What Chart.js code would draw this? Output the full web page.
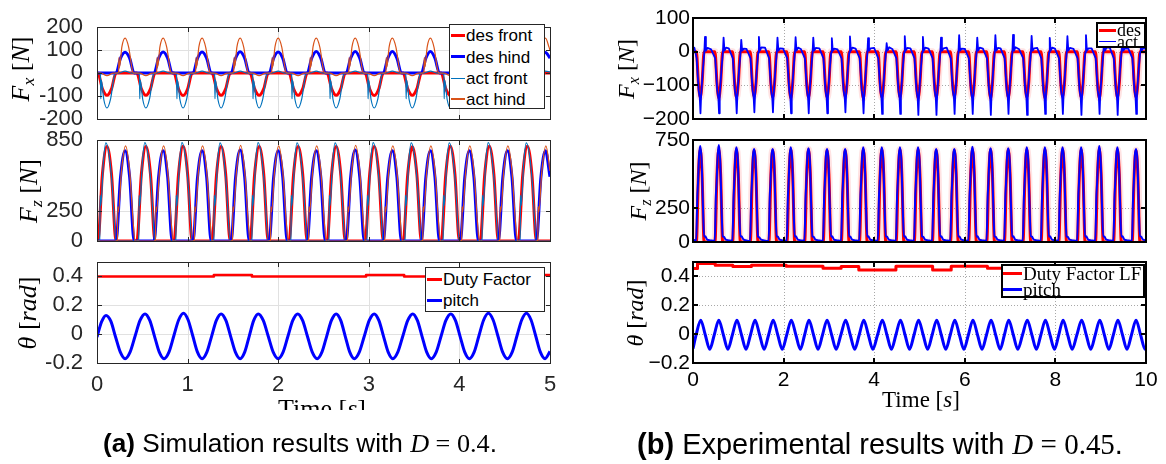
<!DOCTYPE html>
<html>
<head>
<meta charset="utf-8">
<title>Simulation and experimental gait results</title>
<script src="https://cdn.jsdelivr.net/npm/chart.js@4.4.1/dist/chart.umd.min.js"></script>
<style>
html,body{margin:0;padding:0;background:#fff;}
#page{position:relative;width:1166px;height:464px;overflow:hidden;background:#fff;}
#page canvas{position:absolute;top:0;}
.ylab{position:absolute;white-space:nowrap;transform:translate(-50%,-50%) rotate(-90deg);font-family:"Liberation Serif","DejaVu Serif",serif;color:#000;line-height:1;}
.ylab i{font-style:italic;}
.ylab sub{font-size:0.68em;vertical-align:-0.3em;line-height:0;font-style:italic;}
.leg{position:absolute;background:#fff;box-sizing:border-box;}
.cap{position:absolute;white-space:nowrap;font-family:"Liberation Sans",Arial,sans-serif;color:#000;line-height:1;transform:translate(-50%,-50%);}
.cap .m{font-family:"Liberation Serif",serif;}
.xlab{position:absolute;white-space:nowrap;font-family:"Liberation Serif",serif;line-height:1;color:#000;}
</style>
</head>
<body>
<div id="page">
<canvas id="l1" width="580" height="464" style="left:0"></canvas>
<canvas id="l2" width="580" height="464" style="left:0"></canvas>
<canvas id="l3" width="580" height="464" style="left:0"></canvas>
<canvas id="r1" width="586" height="464" style="left:580px"></canvas>
<canvas id="r2" width="586" height="464" style="left:580px"></canvas>
<canvas id="r3" width="586" height="464" style="left:580px"></canvas>

<div class="ylab" style="left:21px;top:69px;font-size:26px"><i>F</i><sub>x</sub>&nbsp;[<i>N</i>]</div>
<div class="ylab" style="left:29px;top:191px;font-size:26px"><i>F</i><sub>z</sub>&nbsp;[<i>N</i>]</div>
<div class="ylab" style="left:28px;top:313px;font-size:26px"><i>θ</i>&nbsp;[<i>rad</i>]</div>
<div class="ylab" style="left:626px;top:69px;font-size:24px"><i>F</i><sub>x</sub>&nbsp;[<i>N</i>]</div>
<div class="ylab" style="left:638px;top:191px;font-size:24px"><i>F</i><sub>z</sub>&nbsp;[<i>N</i>]</div>
<div class="ylab" style="left:635px;top:313px;font-size:24px"><i>θ</i>&nbsp;[<i>rad</i>]</div>

<div style="position:absolute;left:278px;top:396px;width:110px;height:14px;overflow:hidden"><div class="xlab" style="font-size:26px;left:0;top:0">Time [<i>s</i>]</div></div>
<div class="xlab" style="left:921px;top:399px;font-size:23px;transform:translate(-50%,-50%)">Time [<i>s</i>]</div>

<div class="cap" id="capA" style="left:300px;top:444px;font-size:22px"><b>(a)</b> Simulation results with <span class="m"><i>D</i> = 0.4</span>.</div>
<div class="cap" id="capB" style="left:880px;top:444px;font-size:22px"><b>(b)</b> Experimental results with <span class="m"><i>D</i> = 0.45</span>.</div>
</div>

<script>
// ---------------- tick values ----------------
const lXTicks = [0, 1, 2, 3, 4, 5];
const lFxTicks = [-200, -100, 0, 100, 200];
const lFzTicks = [0, 250, 850];
const thetaTicks = [-0.2, 0, 0.2, 0.4];
const rXTicks = [0, 2, 4, 6, 8, 10];
const rFxTicks = [-200, -100, 0, 100];
const rFzTicks = [0, 250, 750];

// ---------------- legend labels ----------------
const lForceLabels = ['des front', 'des hind', 'act front', 'act hind'];
const lThetaLabels = ['Duty Factor', 'pitch'];
const rForceLabels = ['des', 'act'];
const rThetaLabels = ['Duty Factor LF', 'pitch'];

// ---------------- (a) simulation : desired forces ----------------
const lFrontT = [0,
 0.01,0.06,0.11,0.16,0.21, 0.44,0.49,0.54,0.59,0.64, 0.85,0.90,0.95,1.00,1.05, 1.27,1.32,1.37,1.42,1.47,
 1.69,1.74,1.79,1.84,1.89, 2.12,2.17,2.22,2.27,2.32, 2.54,2.59,2.64,2.69,2.74, 2.96,3.01,3.06,3.11,3.16,
 3.38,3.43,3.48,3.53,3.58, 3.80,3.85,3.90,3.95,4.00, 4.23,4.28,4.33,4.38,4.43, 4.65,4.70,4.75,4.80,4.85, 5];
const lFxDesFrontV = [0,
 0,-69,-97,-69,0, 0,-69,-97,-69,0, 0,-69,-98,-69,0, 0,-69,-97,-69,0,
 0,-69,-97,-69,0, 0,-69,-97,-69,0, 0,-69,-97,-69,0, 0,-69,-98,-69,0,
 0,-69,-97,-69,0, 0,-69,-97,-69,0, 0,-69,-97,-69,0, 0,-69,-97,-69,0, 0];
const lFzDesFrontV = [0,
 0,565,795,565,0, 0,565,795,565,0, 0,565,798,565,0, 0,565,795,565,0,
 0,565,795,565,0, 0,565,795,565,0, 0,565,795,565,0, 0,565,795,565,0,
 0,565,793,565,0, 0,565,798,565,0, 0,565,798,565,0, 0,565,798,565,0, 0];
const lHindT = [0,
 0.21,0.26,0.31,0.36,0.41, 0.63,0.68,0.73,0.78,0.83, 1.06,1.11,1.16,1.21,1.26, 1.48,1.53,1.58,1.63,1.68,
 1.90,1.95,2.00,2.05,2.10, 2.32,2.37,2.42,2.47,2.52, 2.75,2.80,2.85,2.90,2.95, 3.16,3.21,3.26,3.31,3.36,
 3.58,3.63,3.68,3.73,3.78, 4.01,4.06,4.11,4.16,4.21, 4.43,4.48,4.53,4.58,4.63, 4.85,4.90,4.95,5.00];
const lFxDesHindV = [0,
 0,65,91,65,0, 0,65,92,65,0, 0,65,92,65,0, 0,65,93,65,0,
 0,65,92,65,0, 0,65,94,65,0, 0,65,94,65,0, 0,65,94,65,0,
 0,65,94,65,0, 0,65,92,65,0, 0,65,92,65,0, 0,65,90,65];
const lFzDesHindV = [0,
 0,540,760,540,0, 0,540,760,540,0, 0,540,760,540,0, 0,540,765,540,0,
 0,540,760,540,0, 0,540,760,540,0, 0,540,765,540,0, 0,540,760,540,0,
 0,540,760,540,0, 0,540,760,540,0, 0,540,760,540,0, 0,540,760,540];

// ---------------- (a) simulation : actual forces ----------------
const lFxActFront = [[0,0],
 [0.02,0],[0.038,-8],[0.042,-112],[0.048,-30],[0.075,-115],[0.11,-152],[0.15,-112],[0.195,-5],[0.21,0],[0.24,0],[0.31,9],[0.38,0],
 [0.45,0],[0.468,-8],[0.472,-112],[0.478,-30],[0.505,-115],[0.54,-152],[0.58,-112],[0.625,-5],[0.64,0],[0.66,0],[0.73,9],[0.80,0],
 [0.86,0],[0.878,-8],[0.882,-112],[0.888,-30],[0.915,-115],[0.95,-152],[0.99,-112],[1.035,-5],[1.05,0],[1.09,0],[1.16,9],[1.23,0],
 [1.28,0],[1.298,-8],[1.302,-112],[1.308,-30],[1.335,-115],[1.37,-152],[1.41,-112],[1.455,-5],[1.47,0],[1.51,0],[1.58,9],[1.65,0],
 [1.70,0],[1.718,-8],[1.722,-112],[1.728,-30],[1.755,-115],[1.79,-152],[1.83,-112],[1.875,-5],[1.89,0],[1.93,0],[2.00,9],[2.07,0],
 [2.13,0],[2.148,-8],[2.152,-112],[2.158,-30],[2.185,-115],[2.22,-152],[2.26,-112],[2.305,-5],[2.32,0],[2.35,0],[2.42,9],[2.49,0],
 [2.55,0],[2.568,-8],[2.572,-112],[2.578,-30],[2.605,-115],[2.64,-152],[2.68,-112],[2.725,-5],[2.74,0],[2.78,0],[2.85,9],[2.92,0],
 [2.97,0],[2.988,-8],[2.992,-112],[2.998,-30],[3.025,-115],[3.06,-152],[3.10,-112],[3.145,-5],[3.16,0],[3.19,0],[3.26,9],[3.33,0],
 [3.39,0],[3.408,-8],[3.412,-112],[3.418,-30],[3.445,-115],[3.48,-152],[3.52,-112],[3.565,-5],[3.58,0],[3.61,0],[3.68,9],[3.75,0],
 [3.81,0],[3.828,-8],[3.832,-112],[3.838,-30],[3.865,-115],[3.90,-152],[3.94,-112],[3.985,-5],[4.00,0],[4.04,0],[4.11,9],[4.18,0],
 [4.24,0],[4.258,-8],[4.262,-112],[4.268,-30],[4.295,-115],[4.33,-152],[4.37,-112],[4.415,-5],[4.43,0],[4.46,0],[4.53,9],[4.60,0],
 [4.66,0],[4.678,-8],[4.682,-112],[4.688,-30],[4.715,-115],[4.75,-152],[4.79,-112],[4.835,-5],[4.85,0],[4.88,0],[4.95,9],[5.0,5]];
const lFxActHind = [[0,0],
 [0.04,0],[0.11,-11],[0.18,0],[0.22,0],[0.238,5],[0.242,68],[0.248,25],[0.275,115],[0.31,152],[0.35,112],[0.395,5],[0.41,0],
 [0.47,0],[0.54,-11],[0.61,0],[0.64,0],[0.658,5],[0.662,68],[0.668,25],[0.695,115],[0.73,152],[0.77,112],[0.815,5],[0.83,0],
 [0.88,0],[0.95,-11],[1.02,0],[1.07,0],[1.088,5],[1.092,68],[1.098,25],[1.125,115],[1.16,152],[1.20,112],[1.245,5],[1.26,0],
 [1.30,0],[1.37,-11],[1.44,0],[1.49,0],[1.508,5],[1.512,68],[1.518,25],[1.545,115],[1.58,152],[1.62,112],[1.665,5],[1.68,0],
 [1.72,0],[1.79,-11],[1.86,0],[1.91,0],[1.928,5],[1.932,68],[1.938,25],[1.965,115],[2.00,152],[2.04,112],[2.085,5],[2.10,0],
 [2.15,0],[2.22,-11],[2.29,0],[2.33,0],[2.348,5],[2.352,68],[2.358,25],[2.385,115],[2.42,152],[2.46,112],[2.505,5],[2.52,0],
 [2.57,0],[2.64,-11],[2.71,0],[2.76,0],[2.778,5],[2.782,68],[2.788,25],[2.815,115],[2.85,152],[2.89,112],[2.935,5],[2.95,0],
 [2.99,0],[3.06,-11],[3.13,0],[3.17,0],[3.188,5],[3.192,68],[3.198,25],[3.225,115],[3.26,152],[3.30,112],[3.345,5],[3.36,0],
 [3.41,0],[3.48,-11],[3.55,0],[3.59,0],[3.608,5],[3.612,68],[3.618,25],[3.645,115],[3.68,152],[3.72,112],[3.765,5],[3.78,0],
 [3.83,0],[3.90,-11],[3.97,0],[4.02,0],[4.038,5],[4.042,68],[4.048,25],[4.075,115],[4.11,152],[4.15,112],[4.195,5],[4.21,0],
 [4.26,0],[4.33,-11],[4.40,0],[4.44,0],[4.458,5],[4.462,68],[4.468,25],[4.495,115],[4.53,152],[4.57,112],[4.615,5],[4.63,0],
 [4.68,0],[4.75,-11],[4.82,0],[4.86,0],[4.878,5],[4.882,68],[4.888,25],[4.915,115],[4.95,152],[4.99,112],[5.0,100]];
const lFzActFront = [[0,0],
 [0.01,0],[0.03,8],[0.035,385],[0.042,300],[0.07,660],[0.098,825],[0.14,690],[0.17,440],[0.21,0],
 [0.44,0],[0.46,8],[0.465,385],[0.472,300],[0.50,660],[0.528,828],[0.57,690],[0.60,440],[0.64,0],
 [0.85,0],[0.87,8],[0.875,385],[0.882,300],[0.91,660],[0.938,828],[0.98,690],[1.01,440],[1.05,0],
 [1.27,0],[1.29,8],[1.295,385],[1.302,300],[1.33,660],[1.358,825],[1.40,690],[1.43,440],[1.47,0],
 [1.69,0],[1.71,8],[1.715,385],[1.722,300],[1.75,660],[1.778,828],[1.82,690],[1.85,440],[1.89,0],
 [2.12,0],[2.14,8],[2.145,385],[2.152,300],[2.18,660],[2.208,825],[2.25,690],[2.28,440],[2.32,0],
 [2.54,0],[2.56,8],[2.565,385],[2.572,300],[2.60,660],[2.628,825],[2.67,690],[2.70,440],[2.74,0],
 [2.96,0],[2.98,8],[2.985,385],[2.992,300],[3.02,660],[3.048,828],[3.09,690],[3.12,440],[3.16,0],
 [3.38,0],[3.40,8],[3.405,385],[3.412,300],[3.44,660],[3.468,825],[3.51,690],[3.54,440],[3.58,0],
 [3.80,0],[3.82,8],[3.825,385],[3.832,300],[3.86,660],[3.888,825],[3.93,690],[3.96,440],[4.00,0],
 [4.23,0],[4.25,8],[4.255,385],[4.262,300],[4.29,660],[4.318,828],[4.36,690],[4.39,440],[4.43,0],
 [4.65,0],[4.67,8],[4.675,385],[4.682,300],[4.71,660],[4.738,825],[4.78,690],[4.81,440],[4.85,0],[5.0,0]];
const lFzActHind = [[0,0],
 [0.21,0],[0.225,8],[0.23,290],[0.236,245],[0.27,590],[0.315,800],[0.36,590],[0.40,150],[0.42,0],
 [0.63,0],[0.645,8],[0.65,290],[0.656,245],[0.69,590],[0.735,800],[0.78,590],[0.82,150],[0.84,0],
 [1.06,0],[1.075,8],[1.08,290],[1.086,245],[1.12,590],[1.165,800],[1.21,590],[1.25,150],[1.27,0],
 [1.48,0],[1.495,8],[1.50,290],[1.506,245],[1.54,590],[1.585,805],[1.63,590],[1.67,150],[1.69,0],
 [1.90,0],[1.915,8],[1.92,290],[1.926,245],[1.96,590],[2.005,800],[2.05,590],[2.09,150],[2.11,0],
 [2.32,0],[2.335,8],[2.34,290],[2.346,245],[2.38,590],[2.425,800],[2.47,590],[2.51,150],[2.53,0],
 [2.75,0],[2.765,8],[2.77,290],[2.776,245],[2.81,590],[2.855,805],[2.90,590],[2.94,150],[2.96,0],
 [3.16,0],[3.175,8],[3.18,290],[3.186,245],[3.22,590],[3.265,800],[3.31,590],[3.35,150],[3.37,0],
 [3.58,0],[3.595,8],[3.60,290],[3.606,245],[3.64,590],[3.685,800],[3.73,590],[3.77,150],[3.79,0],
 [4.01,0],[4.025,8],[4.03,290],[4.036,245],[4.07,590],[4.115,800],[4.16,590],[4.20,150],[4.22,0],
 [4.43,0],[4.445,8],[4.45,290],[4.456,245],[4.49,590],[4.535,800],[4.58,590],[4.62,150],[4.64,0],
 [4.85,0],[4.865,8],[4.87,290],[4.876,245],[4.91,590],[4.955,800],[5.0,590]];

// ---------------- (a) simulation : pitch and duty factor ----------------
const lPitch = [[0,-0.02],[0.05,0.085],[0.10,0.13],
 [0.1525,0.09],[0.205,-0.02],[0.2575,-0.125],[0.31,-0.17],[0.365,-0.125],[0.42,-0.015],[0.475,0.095],[0.53,0.14],
 [0.5825,0.095],[0.635,-0.015],[0.6875,-0.125],[0.74,-0.17],[0.794,-0.125],[0.8475,-0.013],[0.901,0.098],[0.955,0.145],
 [1.006,0.098],[1.0575,-0.013],[1.109,-0.125],[1.16,-0.17],[1.2125,-0.125],[1.265,-0.015],[1.3175,0.095],[1.37,0.14],
 [1.4225,0.095],[1.475,-0.015],[1.5275,-0.125],[1.58,-0.17],[1.63,-0.125],[1.68,-0.015],[1.73,0.095],[1.78,0.14],
 [1.835,0.095],[1.89,-0.015],[1.945,-0.125],[2.00,-0.17],[2.054,-0.125],[2.1075,-0.015],[2.161,0.095],[2.215,0.14],
 [2.269,0.095],[2.3225,-0.015],[2.376,-0.125],[2.43,-0.17],[2.4825,-0.125],[2.535,-0.015],[2.5875,0.095],[2.64,0.14],
 [2.69,0.095],[2.74,-0.015],[2.79,-0.125],[2.84,-0.17],[2.895,-0.125],[2.95,-0.015],[3.005,0.095],[3.06,0.14],
 [3.111,0.095],[3.1625,-0.015],[3.214,-0.125],[3.265,-0.17],[3.32,-0.125],[3.375,-0.015],[3.43,0.095],[3.485,0.14],
 [3.536,0.095],[3.5875,-0.015],[3.639,-0.125],[3.69,-0.17],[3.744,-0.125],[3.7975,-0.015],[3.851,0.095],[3.905,0.14],
 [3.956,0.095],[4.0075,-0.015],[4.059,-0.125],[4.11,-0.17],[4.1625,-0.125],[4.215,-0.013],[4.2675,0.098],[4.32,0.145],
 [4.3725,0.098],[4.425,-0.013],[4.4775,-0.125],[4.53,-0.17],[4.5825,-0.125],[4.635,-0.013],[4.6875,0.098],[4.74,0.145],
 [4.791,0.098],[4.8425,-0.013],[4.894,-0.125],[4.945,-0.17],[5.0,-0.12]];
const lDuty = [[0,0.40],[1.29,0.40],[1.29,0.41],[1.71,0.41],[1.71,0.40],[2.97,0.40],[2.97,0.41],[3.39,0.41],[3.39,0.40],[4.6,0.40],[4.6,0.41],[5,0.41]];

// ---------------- (b) experiment : desired forces ----------------
const rT = [0,
 0.075,0.12,0.16,0.20,0.245, 0.485,0.53,0.57,0.61,0.655, 0.875,0.92,0.96,1.00,1.045, 1.265,1.31,1.35,1.39,1.435,
 1.675,1.72,1.76,1.80,1.845, 2.075,2.12,2.16,2.20,2.245, 2.465,2.51,2.55,2.59,2.635, 2.875,2.92,2.96,3.00,3.045,
 3.275,3.32,3.36,3.40,3.445, 3.675,3.72,3.76,3.80,3.845, 4.085,4.13,4.17,4.21,4.255, 4.485,4.53,4.57,4.61,4.655,
 4.885,4.93,4.97,5.01,5.055, 5.285,5.33,5.37,5.41,5.455, 5.685,5.73,5.77,5.81,5.855, 6.085,6.13,6.17,6.21,6.255,
 6.485,6.53,6.57,6.61,6.655, 6.875,6.92,6.96,7.00,7.045, 7.285,7.33,7.37,7.41,7.455, 7.685,7.73,7.77,7.81,7.855,
 8.075,8.12,8.16,8.20,8.245, 8.485,8.53,8.57,8.61,8.655, 8.885,8.93,8.97,9.01,9.055, 9.285,9.33,9.37,9.41,9.455,
 9.695,9.74,9.78,9.82,9.865, 10];
const rFxDesV = [0,
 0,-95,-135,-95,0, 0,-95,-138,-95,0, 0,-95,-135,-95,0, 0,-95,-132,-95,0, 0,-95,-135,-95,0,
 0,-95,-138,-95,0, 0,-95,-135,-95,0, 0,-95,-135,-95,0, 0,-95,-132,-95,0, 0,-95,-138,-95,0,
 0,-95,-135,-95,0, 0,-95,-135,-95,0, 0,-95,-138,-95,0, 0,-95,-135,-95,0, 0,-95,-132,-95,0,
 0,-95,-135,-95,0, 0,-95,-138,-95,0, 0,-95,-135,-95,0, 0,-95,-135,-95,0, 0,-95,-138,-95,0,
 0,-95,-132,-95,0, 0,-95,-135,-95,0, 0,-95,-138,-95,0, 0,-95,-135,-95,0, 0,-95,-135,-95,0, 0];
const rFzDesV = [0,
 0,500,680,500,0, 0,500,680,500,0, 0,500,680,500,0, 0,500,675,500,0, 0,500,675,500,0,
 0,500,680,500,0, 0,500,680,500,0, 0,500,675,500,0, 0,500,675,500,0, 0,500,680,500,0,
 0,500,680,500,0, 0,500,680,500,0, 0,500,680,500,0, 0,500,675,500,0, 0,500,675,500,0,
 0,500,680,500,0, 0,500,680,500,0, 0,500,680,500,0, 0,500,680,500,0, 0,500,680,500,0,
 0,500,680,500,0, 0,500,680,500,0, 0,500,685,500,0, 0,500,680,500,0, 0,500,675,500,0, 0];

// ---------------- (b) experiment : actual forces ----------------
const rFxAct = [[0,8],[0.03,12],
 [0.08,-20],[0.125,-115],[0.15,-138],[0.165,-183],[0.18,-128],[0.22,-50],[0.25,-2],[0.265,44],[0.285,3],[0.32,11],
 [0.40,7],[0.49,-20],[0.535,-115],[0.56,-138],[0.575,-183],[0.59,-128],[0.63,-50],[0.66,-2],[0.675,42],[0.695,3],[0.73,12],
 [0.79,10],[0.88,-20],[0.925,-115],[0.95,-138],[0.965,-183],[0.98,-128],[1.02,-50],[1.05,-2],[1.065,35],[1.085,3],[1.12,9],
 [1.18,8],[1.27,-20],[1.315,-115],[1.34,-138],[1.355,-180],[1.37,-128],[1.41,-50],[1.44,-2],[1.455,44],[1.475,3],[1.51,13],
 [1.59,12],[1.68,-20],[1.725,-115],[1.75,-138],[1.765,-180],[1.78,-128],[1.82,-50],[1.85,-2],[1.865,42],[1.885,3],[1.92,10],
 [1.99,9],[2.08,-20],[2.125,-115],[2.15,-138],[2.165,-183],[2.18,-128],[2.22,-50],[2.25,-2],[2.265,43],[2.285,3],[2.32,12],
 [2.38,8],[2.47,-20],[2.515,-115],[2.54,-138],[2.555,-183],[2.57,-128],[2.61,-50],[2.64,-2],[2.655,42],[2.675,3],[2.71,11],
 [2.79,10],[2.88,-20],[2.925,-115],[2.95,-138],[2.965,-183],[2.98,-128],[3.02,-50],[3.05,-2],[3.065,40],[3.085,3],[3.12,9],
 [3.19,7],[3.28,-20],[3.325,-115],[3.35,-138],[3.365,-180],[3.38,-128],[3.42,-50],[3.45,-2],[3.465,45],[3.485,3],[3.52,12],
 [3.59,9],[3.68,-20],[3.725,-115],[3.75,-138],[3.765,-183],[3.78,-128],[3.82,-50],[3.85,-2],[3.865,40],[3.885,3],[3.92,10],
 [4.00,11],[4.09,-20],[4.135,-115],[4.16,-138],[4.175,-185],[4.19,-128],[4.23,-50],[4.26,-2],[4.275,25],[4.295,3],[4.33,13],
 [4.40,8],[4.49,-20],[4.535,-115],[4.56,-138],[4.575,-185],[4.59,-128],[4.63,-50],[4.66,-2],[4.675,46],[4.695,3],[4.73,11],
 [4.80,10],[4.89,-20],[4.935,-115],[4.96,-138],[4.975,-188],[4.99,-128],[5.03,-50],[5.06,-2],[5.075,44],[5.095,3],[5.13,12],
 [5.20,9],[5.29,-20],[5.335,-115],[5.36,-138],[5.375,-188],[5.39,-128],[5.43,-50],[5.46,-2],[5.475,42],[5.495,3],[5.53,10],
 [5.60,12],[5.69,-20],[5.735,-115],[5.76,-138],[5.775,-185],[5.79,-128],[5.83,-50],[5.86,-2],[5.875,49],[5.895,3],[5.93,9],
 [6.00,8],[6.09,-20],[6.135,-115],[6.16,-138],[6.175,-185],[6.19,-128],[6.23,-50],[6.26,-2],[6.275,42],[6.295,3],[6.33,12],
 [6.40,9],[6.49,-20],[6.535,-115],[6.56,-138],[6.575,-188],[6.59,-128],[6.63,-50],[6.66,-2],[6.675,49],[6.695,3],[6.73,11],
 [6.79,10],[6.88,-20],[6.925,-115],[6.95,-138],[6.965,-185],[6.98,-128],[7.02,-50],[7.05,-2],[7.065,50],[7.085,3],[7.12,13],
 [7.20,7],[7.29,-20],[7.335,-115],[7.36,-138],[7.375,-188],[7.39,-128],[7.43,-50],[7.46,-2],[7.475,47],[7.495,3],[7.53,10],
 [7.60,11],[7.69,-20],[7.735,-115],[7.76,-138],[7.775,-185],[7.79,-128],[7.83,-50],[7.86,-2],[7.875,41],[7.895,3],[7.93,12],
 [7.99,9],[8.08,-20],[8.125,-115],[8.15,-138],[8.165,-185],[8.18,-128],[8.22,-50],[8.25,-2],[8.265,46],[8.285,3],[8.32,11],
 [8.40,8],[8.49,-20],[8.535,-115],[8.56,-138],[8.575,-188],[8.59,-128],[8.63,-50],[8.66,-2],[8.675,49],[8.695,3],[8.73,10],
 [8.80,10],[8.89,-20],[8.935,-115],[8.96,-138],[8.975,-185],[8.99,-128],[9.03,-50],[9.06,-2],[9.075,42],[9.095,3],[9.13,12],
 [9.20,12],[9.29,-20],[9.335,-115],[9.36,-138],[9.375,-188],[9.39,-128],[9.43,-50],[9.46,-2],[9.475,42],[9.495,3],[9.53,9],
 [9.61,9],[9.70,-20],[9.745,-115],[9.77,-138],[9.785,-185],[9.80,-128],[9.84,-50],[9.87,-2],[9.885,39],[9.905,3],[9.94,11],[10,7]];
const rFzAct = [[0,10],[0.03,14],
 [0.07,8],[0.095,330],[0.11,430],[0.135,640],[0.16,706],[0.19,600],[0.22,260],[0.245,40],[0.27,42],[0.31,18],[0.38,12],
 [0.48,8],[0.505,340],[0.52,430],[0.545,640],[0.57,713],[0.60,600],[0.63,260],[0.655,40],[0.68,38],[0.72,18],[0.79,12],
 [0.87,8],[0.895,320],[0.91,430],[0.935,640],[0.96,696],[0.99,600],[1.02,260],[1.045,40],[1.07,42],[1.11,20],[1.18,12],
 [1.26,8],[1.285,330],[1.30,430],[1.325,640],[1.35,684],[1.38,600],[1.41,260],[1.435,40],[1.46,35],[1.50,18],[1.57,12],
 [1.67,8],[1.695,335],[1.71,430],[1.735,640],[1.76,684],[1.79,600],[1.82,260],[1.845,40],[1.87,40],[1.91,18],[1.98,12],
 [2.07,8],[2.095,330],[2.11,430],[2.135,640],[2.16,696],[2.19,600],[2.22,260],[2.245,40],[2.27,42],[2.31,18],[2.38,12],
 [2.46,8],[2.485,325],[2.50,430],[2.525,640],[2.55,689],[2.58,600],[2.61,260],[2.635,40],[2.66,38],[2.70,18],[2.77,12],
 [2.87,8],[2.895,330],[2.91,430],[2.935,640],[2.96,684],[2.99,600],[3.02,260],[3.045,40],[3.07,42],[3.11,18],[3.18,12],
 [3.27,8],[3.295,340],[3.31,430],[3.335,640],[3.36,684],[3.39,600],[3.42,260],[3.445,40],[3.47,40],[3.51,18],[3.58,12],
 [3.67,8],[3.695,330],[3.71,430],[3.735,640],[3.76,696],[3.79,600],[3.82,260],[3.845,40],[3.87,42],[3.91,18],[3.98,12],
 [4.08,8],[4.105,330],[4.12,430],[4.145,640],[4.17,696],[4.20,600],[4.23,260],[4.255,40],[4.28,40],[4.32,18],[4.39,12],
 [4.48,8],[4.505,335],[4.52,430],[4.545,640],[4.57,696],[4.60,600],[4.63,260],[4.655,40],[4.68,42],[4.72,18],[4.79,12],
 [4.88,8],[4.905,330],[4.92,430],[4.945,640],[4.97,696],[5.00,600],[5.03,260],[5.055,40],[5.08,38],[5.12,18],[5.19,12],
 [5.28,8],[5.305,325],[5.32,430],[5.345,640],[5.37,684],[5.40,600],[5.43,260],[5.455,40],[5.48,42],[5.52,18],[5.59,12],
 [5.68,8],[5.705,330],[5.72,430],[5.745,640],[5.77,684],[5.80,600],[5.83,260],[5.855,40],[5.88,40],[5.92,18],[5.99,12],
 [6.08,8],[6.105,340],[6.12,430],[6.145,640],[6.17,701],[6.20,600],[6.23,260],[6.255,40],[6.28,42],[6.32,18],[6.39,12],
 [6.48,8],[6.505,330],[6.52,430],[6.545,640],[6.57,689],[6.60,600],[6.63,260],[6.655,40],[6.68,38],[6.72,18],[6.79,12],
 [6.87,8],[6.895,330],[6.91,430],[6.935,640],[6.96,689],[6.99,600],[7.02,260],[7.045,40],[7.07,42],[7.11,18],[7.18,12],
 [7.28,8],[7.305,335],[7.32,430],[7.345,640],[7.37,696],[7.40,600],[7.43,260],[7.455,40],[7.48,40],[7.52,18],[7.59,12],
 [7.68,8],[7.705,330],[7.72,430],[7.745,640],[7.77,696],[7.80,600],[7.83,260],[7.855,40],[7.88,42],[7.92,18],[7.99,12],
 [8.07,8],[8.095,325],[8.11,430],[8.135,640],[8.16,696],[8.19,600],[8.22,260],[8.245,40],[8.27,38],[8.31,18],[8.38,12],
 [8.48,8],[8.505,330],[8.52,430],[8.545,640],[8.57,696],[8.60,600],[8.63,260],[8.655,40],[8.68,42],[8.72,18],[8.79,12],
 [8.88,8],[8.905,340],[8.92,430],[8.945,640],[8.97,706],[9.00,600],[9.03,260],[9.055,40],[9.08,40],[9.12,18],[9.19,12],
 [9.28,8],[9.305,330],[9.32,430],[9.345,640],[9.37,696],[9.40,600],[9.43,260],[9.455,40],[9.48,42],[9.52,18],[9.59,12],
 [9.69,8],[9.715,330],[9.73,430],[9.755,640],[9.78,684],[9.81,600],[9.84,260],[9.865,40],[9.89,40],[9.93,18],[10,12]];

// ---------------- (b) experiment : pitch and duty factor ----------------
const rPitch = [[0,-0.10],
 [0.07,-0.004],[0.17,0.097],[0.27,-0.004],[0.37,-0.105], [0.47,-0.004],[0.57,0.097],[0.67,-0.004],[0.77,-0.105],
 [0.87,-0.004],[0.97,0.097],[1.07,-0.004],[1.17,-0.105], [1.27,-0.004],[1.37,0.097],[1.47,-0.004],[1.57,-0.105],
 [1.67,-0.004],[1.77,0.097],[1.87,-0.004],[1.97,-0.105], [2.07,-0.004],[2.17,0.097],[2.27,-0.004],[2.37,-0.105],
 [2.465,-0.004],[2.56,0.097],[2.66,-0.004],[2.76,-0.105], [2.86,-0.004],[2.96,0.097],[3.06,-0.004],[3.16,-0.105],
 [3.265,-0.004],[3.37,0.097],[3.47,-0.004],[3.57,-0.105], [3.67,-0.004],[3.77,0.097],[3.87,-0.004],[3.97,-0.105],
 [4.075,-0.004],[4.18,0.097],[4.28,-0.004],[4.38,-0.105], [4.48,-0.004],[4.58,0.097],[4.68,-0.004],[4.78,-0.105],
 [4.88,-0.004],[4.98,0.097],[5.08,-0.004],[5.18,-0.105], [5.28,-0.004],[5.38,0.097],[5.48,-0.004],[5.58,-0.105],
 [5.68,-0.004],[5.78,0.097],[5.88,-0.004],[5.98,-0.105], [6.08,-0.004],[6.18,0.097],[6.28,-0.004],[6.38,-0.105],
 [6.48,-0.004],[6.58,0.097],[6.68,-0.004],[6.78,-0.105], [6.875,-0.004],[6.97,0.097],[7.07,-0.004],[7.17,-0.105],
 [7.275,-0.004],[7.38,0.097],[7.48,-0.004],[7.58,-0.105], [7.68,-0.004],[7.78,0.097],[7.88,-0.004],[7.98,-0.105],
 [8.075,-0.004],[8.17,0.097],[8.27,-0.004],[8.37,-0.105], [8.475,-0.004],[8.58,0.097],[8.68,-0.004],[8.78,-0.105],
 [8.88,-0.004],[8.98,0.097],[9.08,-0.004],[9.18,-0.105], [9.28,-0.004],[9.38,0.097],[9.48,-0.004],[9.58,-0.105],
 [9.68,-0.004],[9.78,0.097],[9.88,-0.004],[9.98,-0.105],[10,-0.10]];
const rDuty = [[0,0.455],[0.1,0.455],[0.1,0.49],[0.49,0.49],[0.49,0.477],[0.88,0.477],[0.88,0.468],[1.29,0.468],[1.29,0.477],
 [2.06,0.477],[2.06,0.471],[2.87,0.471],[2.87,0.457],[3.27,0.457],[3.27,0.468],[3.66,0.468],[3.66,0.445],[4.48,0.445],
 [4.48,0.471],[5.29,0.471],[5.29,0.445],[5.70,0.445],[5.70,0.471],[6.50,0.471],[6.50,0.457],[10,0.457]];

// ---------------- helpers ----------------
const pts = (T, V) => T.map((t, i) => ({x: t, y: V[i]}));
const xy = P => P.map(p => ({x: p[0], y: p[1]}));

const framePlugin = {
  id: 'frame',
  beforeDatasetsDraw(chart, args, o) {
    const {ctx, chartArea: a, scales: {x, y}} = chart;
    ctx.save();
    ctx.strokeStyle = o.grid; ctx.lineWidth = 1; ctx.setLineDash(o.dash || []);
    for (const t of x.ticks) {
      const p = Math.round(x.getPixelForValue(t.value)) + 0.5;
      if (p > a.left + 2 && p < a.right - 2) { ctx.beginPath(); ctx.moveTo(p, a.top); ctx.lineTo(p, a.bottom); ctx.stroke(); }
    }
    for (const t of y.ticks) {
      const p = Math.round(y.getPixelForValue(t.value)) + 0.5;
      if (p > a.top + 2 && p < a.bottom - 2) { ctx.beginPath(); ctx.moveTo(a.left, p); ctx.lineTo(a.right, p); ctx.stroke(); }
    }
    ctx.restore();
  },
  afterDatasetsDraw(chart, args, o) {
    const {ctx, chartArea: a, scales: {x, y}} = chart;
    const off = (o.width % 2 === 1) ? 0.5 : 0;
    const L = Math.round(a.left) + off, R = Math.round(a.right) + off, T = Math.round(a.top) + off, B = Math.round(a.bottom) + off;
    ctx.save();
    ctx.strokeStyle = o.color; ctx.lineWidth = o.width; ctx.setLineDash([]);
    ctx.beginPath();
    for (const t of x.ticks) {
      const p = Math.round(x.getPixelForValue(t.value)) + off;
      ctx.moveTo(p, B); ctx.lineTo(p, B - o.tl); ctx.moveTo(p, T); ctx.lineTo(p, T + o.tl);
    }
    for (const t of y.ticks) {
      const p = Math.round(y.getPixelForValue(t.value)) + off;
      ctx.moveTo(L, p); ctx.lineTo(L + o.tl, p); ctx.moveTo(R, p); ctx.lineTo(R - o.tl, p);
    }
    ctx.stroke();
    ctx.strokeRect(L, T, R - L, B - T);
    ctx.restore();
  }
};

const LEFT = {yAxisW: 97, padRight: 30, font: {family: '"Liberation Sans", Arial, sans-serif', size: 22}, tickColor: '#262626', yPad: 14, xPad: 9,
  fmt: v => String(v), frame: {color: '#262626', width: 1, grid: '#e1e1e1', dash: [], tl: 4.5}, xmin: 0, xmax: 5, xticks: lXTicks};
const RIGHT = {yAxisW: 113, padRight: 20, font: {family: '"Liberation Sans", Arial, sans-serif', size: 21}, tickColor: '#000', yPad: 3, xPad: 5,
  fmt: v => String(v).replace('-', '\u2212'), frame: {color: '#000', width: 2, grid: '#a8a8a8', dash: [1, 2], tl: 5}, xmin: 0, xmax: 10, xticks: rXTicks};

function makeChart(id, base, cfg) {
  const c = Object.assign({}, base, cfg);
  const datasets = c.series.map(s => ({
    data: s.data, borderColor: s.color, borderWidth: s.width, order: s.order,
    cubicInterpolationMode: s.mono ? 'monotone' : 'default', tension: 0,
    pointRadius: 0, pointHoverRadius: 0, fill: false, borderJoinStyle: 'round', borderCapStyle: 'butt'
  }));
  return new Chart(document.getElementById(id), {
    type: 'line',
    data: {datasets},
    options: {
      responsive: false, animation: false, devicePixelRatio: 1, events: [],
      layout: {padding: {left: 0, top: c.top, right: c.padRight, bottom: 0}},
      plugins: {legend: {display: false}, tooltip: {enabled: false}, frame: c.frame},
      scales: {
        x: {type: 'linear', min: c.xmin, max: c.xmax,
          afterBuildTicks: s => { s.ticks = c.xticks.map(v => ({value: v})); },
          afterFit: s => { s.height = 464 - c.bottom; },
          grid: {display: false, drawTicks: false}, border: {display: false},
          ticks: {display: !!c.xLabels, padding: c.xPad, font: c.font, color: c.tickColor, maxRotation: 0, autoSkip: false, callback: c.fmt}},
        y: {type: 'linear', min: c.ymin, max: c.ymax,
          afterBuildTicks: s => { s.ticks = c.yticks.map(v => ({value: v})); },
          afterFit: s => { s.width = c.yAxisW; },
          grid: {display: false, drawTicks: false}, border: {display: false},
          ticks: {padding: c.yPad, font: c.font, color: c.tickColor, autoSkip: false, callback: c.fmt}}
      }
    },
    plugins: [framePlugin]
  });
}

const RED = '#ff0000', BLUE = '#0000ff', C1 = '#0072BD', C2 = '#D95319', HALO = 'rgba(255,40,40,0.13)';

makeChart('l1', LEFT, {top: 18, bottom: 119, ymin: -200, ymax: 200, yticks: lFxTicks, series: [
  {data: pts(lFrontT, lFxDesFrontV), color: RED, width: 3, order: 3, mono: true},
  {data: pts(lHindT, lFxDesHindV), color: BLUE, width: 3, order: 2, mono: true},
  {data: xy(lFxActFront), color: C1, width: 1.2, order: 1, mono: true},
  {data: xy(lFxActHind), color: C2, width: 1.2, order: 0, mono: true}]});
makeChart('l2', LEFT, {top: 140, bottom: 241, ymin: 0, ymax: 850, yticks: lFzTicks, series: [
  {data: pts(lFrontT, lFzDesFrontV), color: RED, width: 3, order: 3, mono: true},
  {data: pts(lHindT, lFzDesHindV), color: BLUE, width: 3, order: 2, mono: true},
  {data: xy(lFzActFront), color: C1, width: 1.2, order: 1, mono: true},
  {data: xy(lFzActHind), color: C2, width: 1.2, order: 0, mono: true}]});
makeChart('l3', LEFT, {top: 262, bottom: 363, ymin: -0.2, ymax: 0.5, yticks: thetaTicks, xLabels: true, series: [
  {data: xy(lDuty), color: RED, width: 2.6, order: 1, mono: false},
  {data: xy(lPitch), color: BLUE, width: 3, order: 0, mono: true}]});

makeChart('r1', RIGHT, {top: 18, bottom: 119, ymin: -200, ymax: 100, yticks: rFxTicks, series: [
  {data: pts(rT, rFxDesV), color: HALO, width: 7, order: 2, mono: true},
  {data: pts(rT, rFxDesV), color: RED, width: 3, order: 1, mono: true},
  {data: xy(rFxAct), color: BLUE, width: 1.8, order: 0, mono: false}]});
makeChart('r2', RIGHT, {top: 140, bottom: 242, ymin: 0, ymax: 750, yticks: rFzTicks, series: [
  {data: pts(rT, rFzDesV), color: HALO, width: 7, order: 2, mono: true},
  {data: pts(rT, rFzDesV), color: RED, width: 3, order: 1, mono: true},
  {data: xy(rFzAct), color: BLUE, width: 2, order: 0, mono: true}]});
makeChart('r3', RIGHT, {top: 262, bottom: 363, ymin: -0.2, ymax: 0.5, yticks: thetaTicks, xLabels: true, series: [
  {data: xy(rDuty), color: RED, width: 3, order: 1, mono: false},
  {data: xy(rPitch), color: BLUE, width: 3, order: 0, mono: true}]});

// ---------------- legends (HTML overlays) ----------------
function addLegend(s) {
  const d = document.createElement('div');
  d.className = 'leg';
  d.style.cssText = `left:${s.x}px;top:${s.y}px;width:${s.w}px;height:${s.h}px;border:${s.bw}px solid ${s.bc};`;
  s.rows.forEach((r, i) => {
    const ln = document.createElement('div');
    ln.style.cssText = `position:absolute;left:${s.l0 - s.x - s.bw}px;width:${s.l1 - s.l0}px;top:${r.y - s.y - s.bw - r.lw / 2}px;height:${r.lw}px;background:${r.c};`;
    d.appendChild(ln);
    const tx = document.createElement('div');
    tx.textContent = s.labels[i];
    tx.style.cssText = `position:absolute;left:${s.tx - s.x - s.bw}px;top:${r.y - s.y - s.bw}px;transform:translateY(-50%);white-space:nowrap;font:${s.font};line-height:1;color:#000;`;
    d.appendChild(tx);
  });
  document.getElementById('page').appendChild(d);
}
const SANS17 = '17px "Liberation Sans", Arial, sans-serif';
addLegend({x: 449, y: 24, w: 96, h: 85, bw: 1, bc: '#262626', l0: 451, l1: 465, tx: 466, font: SANS17, labels: lForceLabels,
  rows: [{y: 35, c: RED, lw: 3}, {y: 56.7, c: BLUE, lw: 3}, {y: 78.3, c: C1, lw: 1.3}, {y: 99, c: C2, lw: 1.3}]});
addLegend({x: 425, y: 267, w: 120, h: 45, bw: 1, bc: '#262626', l0: 427, l1: 442, tx: 443, font: SANS17, labels: lThetaLabels,
  rows: [{y: 279.3, c: RED, lw: 3}, {y: 300, c: BLUE, lw: 3}]});
addLegend({x: 1096, y: 22, w: 50, h: 26, bw: 2, bc: '#000', l0: 1099, l1: 1116, tx: 1117, font: '18px "Liberation Serif", serif', labels: rForceLabels,
  rows: [{y: 30, c: RED, lw: 3}, {y: 41.5, c: BLUE, lw: 1.6}]});
addLegend({x: 1001, y: 264, w: 144, h: 34, bw: 2, bc: '#000', l0: 1003, l1: 1022, tx: 1023, font: '19px "Liberation Serif", serif', labels: rThetaLabels,
  rows: [{y: 273.3, c: RED, lw: 3}, {y: 289.3, c: BLUE, lw: 3}]});

// ---------------- caption widths ----------------
[['capA', 394], ['capB', 486]].forEach(([id, w]) => {
  const e = document.getElementById(id);
  const fs = parseFloat(e.style.fontSize);
  e.style.fontSize = (fs * w / e.getBoundingClientRect().width) + 'px';
});
</script>
</body>
</html>
